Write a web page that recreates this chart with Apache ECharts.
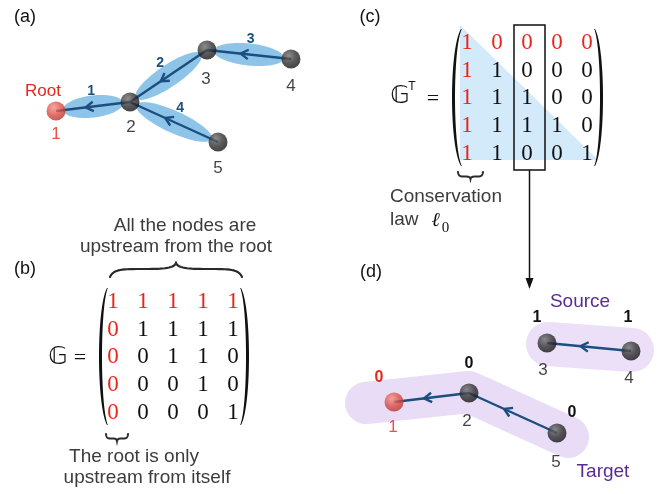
<!DOCTYPE html>
<html><head><meta charset="utf-8">
<script src="https://cdn.jsdelivr.net/npm/echarts@6/dist/echarts.min.js"></script>
<style>html,body{margin:0;padding:0;background:#fff}#c{width:663px;height:494px}</style>
</head><body><div id="c"></div>
<script>
// ---------------- data ----------------
const treeNodeIds = ['1', '2', '3', '4', '5'];
const treeNodeX = [56, 130, 207, 291, 218];
const treeNodeY = [111, 102, 50, 59, 142];
const treeEdges = [[2, 1], [3, 2], [4, 3], [5, 2]];      // child -> parent
const treeEdgeLabels = ['1', '2', '3', '4'];

const matrixG = [
  [1, 1, 1, 1, 1],
  [0, 1, 1, 1, 1],
  [0, 0, 1, 1, 0],
  [0, 0, 0, 1, 0],
  [0, 0, 0, 0, 1]
];
const matrixGT = [
  [1, 0, 0, 0, 0],
  [1, 1, 0, 0, 0],
  [1, 1, 1, 0, 0],
  [1, 1, 1, 1, 0],
  [1, 1, 0, 0, 1]
];

const splitNodeIds = ['1', '2', '3', '4', '5'];
const splitNodeX = [394, 469, 547, 631, 557];
const splitNodeY = [402, 393, 343, 351, 433];
const splitNodeValues = ['0', '0', '1', '1', '0'];
const splitEdges = [[2, 1], [4, 3], [5, 2]];
const groupNames = ['Target', 'Source'];
const groupMembers = [[1, 2, 5], [3, 4]];

// ---------------- layout / style ----------------
const RED = '#e8261c', NAVY = '#1c4f80', GREY = '#3c3c3c', PURPLE = '#5a2b92';
const SANS = '"Liberation Sans", Arial, Helvetica, sans-serif';
const SERIF = '"Liberation Serif", "Times New Roman", serif';
const treeLabelOffsets = [[0, 23], [1, 25], [-1, 29], [0, 27], [0, 26]];
const splitLabelOffsets = [[-1, 25], [-2, 28], [-4, 27], [-2, 27], [-1, 29]];
const splitValueOffsets = [[-15, -24], [0, -29], [-10, -25], [-3, -33], [15, -20]];
const groupEnds = [[[-28, 1], [0, -1], [11, 4]], [[1, 1], [1, -1]]];
const matB = {x0: 113, y0: 302, dx: 30, dy: 27.7};
const matC = {x0: 467, y0: 43, dx: 30, dy: 27.7};

function ball(red) {
  return {type: 'radial', x: 0.38, y: 0.32, r: 0.72, colorStops: red
    ? [{offset: 0, color: '#f29286'}, {offset: 0.55, color: '#dc4d44'}, {offset: 1, color: '#b4332a'}]
    : [{offset: 0, color: '#707070'}, {offset: 0.55, color: '#303030'}, {offset: 1, color: '#141414'}]};
}

// sampling helpers
function cubic(p0, p1, p2, p3, n) {
  const out = [];
  for (let i = 0; i <= n; i++) {
    const t = i / n, u = 1 - t;
    out.push([u*u*u*p0[0] + 3*u*u*t*p1[0] + 3*u*t*t*p2[0] + t*t*t*p3[0],
              u*u*u*p0[1] + 3*u*u*t*p1[1] + 3*u*t*t*p2[1] + t*t*t*p3[1]]);
  }
  return out;
}
function paren(xEnd, xMid, y0, y1, thick) {
  const h = y1 - y0, k = 0.14;
  const sgn = xMid < xEnd ? 1 : -1;
  const c1 = (xMid - 0.25 * xEnd) / 0.75;
  const xIn = xMid + sgn * thick;
  const c2 = (xIn - 0.25 * xEnd) / 0.75;
  const outer = cubic([xEnd, y0], [c1, y0 + h * k], [c1, y1 - h * k], [xEnd, y1], 40);
  const inner = cubic([xEnd + sgn * 0.8, y1], [c2, y1 - h * k], [c2, y0 + h * k], [xEnd + sgn * 0.8, y0], 40);
  return {type: 'polygon', z: 50, shape: {points: outer.concat(inner)}, style: {fill: '#111'}};
}
function brace(x0, x1, yEnd, yMid, yTip, lw) {
  const xm = (x0 + x1) / 2, q1 = (x0 + xm) / 2, q2 = (xm + x1) / 2;
  const w = (x1 - x0) / 2;
  let pts = [];
  pts = pts.concat(cubic([x0, yEnd], [x0 + w * 0.05, yMid], [x0 + w * 0.2, yMid], [q1, yMid], 16));
  pts = pts.concat(cubic([q1, yMid], [xm - w * 0.25, yMid], [xm - w * 0.03, yMid], [xm, yTip], 16));
  pts = pts.concat(cubic([xm, yTip], [xm + w * 0.03, yMid], [xm + w * 0.25, yMid], [q2, yMid], 16));
  pts = pts.concat(cubic([q2, yMid], [x1 - w * 0.2, yMid], [x1 - w * 0.05, yMid], [x1, yEnd], 16));
  return {type: 'polyline', z: 50, shape: {points: pts}, style: {stroke: '#2a2a2a', lineWidth: lw, fill: null, lineCap: 'round'}};
}
function txt(text, x, y, size, color, extra) {
  extra = extra || {};
  const font = (extra.style || '') + ' ' + (extra.weight || 'normal') + ' ' + size + 'px ' + (extra.family || SANS);
  const al = extra.align || 'center';
  return {type: 'text', z: 100, style: {text: text, x: x, y: y, fill: color, font: font,
    textAlign: al, textVerticalAlign: 'middle', align: al, verticalAlign: 'middle'}};
}

// ---------------- series data ----------------
const treeEdgeData = treeEdges.map(e => [treeNodeX[e[0]-1], treeNodeY[e[0]-1], treeNodeX[e[1]-1], treeNodeY[e[1]-1]]);
const splitEdgeData = splitEdges.map(e => [splitNodeX[e[0]-1], splitNodeY[e[0]-1], splitNodeX[e[1]-1], splitNodeY[e[1]-1]]);

function matrixData(M, L) {
  const out = [];
  M.forEach((row, r) => row.forEach((v, c) => out.push([L.x0 + c * L.dx, L.y0 + r * L.dy, v, (r === 0 || c === 0) ? 1 : 0])));
  return out;
}

function renderEllipse(params, api) {
  const c = api.coord([api.value(0), api.value(1)]);
  const p = api.coord([api.value(2), api.value(3)]);
  const dx = p[0] - c[0], dy = p[1] - c[1], L = Math.hypot(dx, dy);
  const ux = dx / L, uy = dy / L, mx = (c[0] + p[0]) / 2, my = (c[1] + p[1]) / 2;
  const a = L / 2 - 7, b = 11;
  const pts = [];
  for (let i = 0; i < 60; i++) {
    const t = i / 60 * Math.PI * 2, lx = a * Math.cos(t), ly = b * Math.sin(t);
    pts.push([mx + lx * ux - ly * uy, my + lx * uy + ly * ux]);
  }
  return {type: 'polygon', shape: {points: pts}, style: {fill: '#8fc4e9'}};
}

function makeEdgeRenderer(labels) {
  return function (params, api) {
    const c = api.coord([api.value(0), api.value(1)]);
    const p = api.coord([api.value(2), api.value(3)]);
    const dx = p[0] - c[0], dy = p[1] - c[1], L = Math.hypot(dx, dy);
    const ux = dx / L, uy = dy / L;
    const tip = [c[0] + dx * 0.6, c[1] + dy * 0.6];
    const arm = 9, ang = 0.55;
    const bx = -ux, by = -uy;
    const rot = (s) => [tip[0] + arm * (bx * Math.cos(s) - by * Math.sin(s)), tip[1] + arm * (bx * Math.sin(s) + by * Math.cos(s))];
    const children = [
      {type: 'line', shape: {x1: c[0], y1: c[1], x2: p[0], y2: p[1]}, style: {stroke: NAVY, lineWidth: 2.4}},
      {type: 'polyline', shape: {points: [rot(ang), tip, rot(-ang)]}, style: {stroke: NAVY, lineWidth: 2.4, fill: null, lineJoin: 'round'}}
    ];
    if (labels) {
      let nx = uy, ny = -ux;
      if (ny > 0) { nx = -nx; ny = -ny; }
      const mx = (c[0] + p[0]) / 2 + nx * 15, my = (c[1] + p[1]) / 2 + ny * 15;
      children.push({type: 'text', style: {text: labels[params.dataIndex], x: mx, y: my, fill: NAVY,
        font: 'bold 14px ' + SANS, textAlign: 'center', textVerticalAlign: 'middle', align: 'center', verticalAlign: 'middle'}});
    }
    return {type: 'group', children: children};
  };
}

function renderBlob(params, api) {
  const idx = params.dataIndex;
  const pts = groupMembers[idx].map((n, k) => {
    const q = api.coord([splitNodeX[n-1], splitNodeY[n-1]]);
    return [q[0] + groupEnds[idx][k][0], q[1] + groupEnds[idx][k][1]];
  });
  return {type: 'polyline', shape: {points: pts}, style: {stroke: idx === 0 ? '#e8dcf6' : '#ebe0f7', lineWidth: idx === 0 ? 42 : 44, lineCap: 'round', lineJoin: 'round', fill: null}};
}

function renderMatrix(params, api) {
  const q = api.coord([api.value(0), api.value(1)]);
  return {type: 'text', style: {text: String(api.value(2)), x: q[0], y: q[1], fill: api.value(3) ? RED : '#111',
    font: '23px ' + SERIF, textAlign: 'center', textVerticalAlign: 'middle', align: 'center', verticalAlign: 'middle'}};
}

function renderValues(params, api) {
  const i = params.dataIndex;
  const q = api.coord([api.value(0), api.value(1)]);
  return {type: 'text', style: {text: splitNodeValues[i], x: q[0] + splitValueOffsets[i][0], y: q[1] + splitValueOffsets[i][1],
    fill: i === 0 ? RED : '#111', font: 'bold 16px ' + SANS, textAlign: 'center', textVerticalAlign: 'middle', align: 'center', verticalAlign: 'middle'}};
}

function nodeData(ids, xs, ys, offs) {
  return ids.map((id, i) => ({
    value: [xs[i], ys[i]], name: id,
    itemStyle: {color: ball(id === '1')},
    label: {offset: offs[i], color: id === '1' ? RED : '#111'}
  }));
}

// ---------------- graphic annotations ----------------
const graphics = [
  // (c) triangle background
  {type: 'polygon', z: 0, shape: {points: [[460, 25], [460, 160], [598, 160]]}, style: {fill: '#d3eafb'}},
  // parentheses
  paren(107, 99, 288, 425, 2.8), paren(241, 249, 288, 425, 2.8),
  paren(461, 452, 29, 166, 2.8), paren(595, 603, 29, 166, 2.8),
  // braces
  brace(110, 242, 277, 269, 263, 2.2),
  brace(106, 128, 434, 438.5, 441, 2),
  brace(458, 483, 172, 176.5, 179, 2),
  // column box and arrow
  {type: 'rect', z: 50, shape: {x: 514, y: 25, width: 31, height: 145}, style: {fill: null, stroke: '#111', lineWidth: 1.5}},
  {type: 'line', z: 50, shape: {x1: 529.5, y1: 170, x2: 529.5, y2: 281}, style: {stroke: '#111', lineWidth: 1.5}},
  {type: 'polygon', z: 50, shape: {points: [[525.5, 278], [533.5, 278], [529.5, 289]]}, style: {fill: '#111'}},
  // panel tags
  txt('(a)', 25, 17, 18, '#111'), txt('(b)', 25, 269, 18, '#111'),
  txt('(c)', 370, 17, 18, '#111'), txt('(d)', 371, 272, 18, '#111'),
  txt('Root', 43, 91, 17, RED),
  txt('All the nodes are', 185, 226, 19, GREY),
  txt('upstream from the root', 176, 247, 19, GREY),
  txt('The root is only', 134, 457, 19, GREY),
  txt('upstream from itself', 147, 478, 19, GREY),
  txt('\u{1D53E}', 58, 357, 25, '#111', {family: '"DejaVu Sans", sans-serif'}),
  txt('=', 80, 358, 22, '#111', {family: SERIF}),
  txt('\u{1D53E}', 400, 96, 25, '#111', {family: '"DejaVu Sans", sans-serif'}),
  txt('T', 412, 87, 12, '#111'),
  txt('=', 433, 99, 22, '#111', {family: SERIF}),
  txt('Conservation', 390, 197, 19, GREY, {align: 'left'}),
  txt('law', 390, 220, 19, GREY, {align: 'left'}),
  txt('\u2113', 436, 221, 20, '#111', {family: '"DejaVu Serif", serif', weight: 'bold', style: 'italic'}),
  txt('0', 445.5, 228, 15, '#111', {family: SERIF}),
  txt(groupNames[1], 580, 302, 19, PURPLE),
  txt(groupNames[0], 603, 472, 19, PURPLE)
];

const chart = echarts.init(document.getElementById('c'));
chart.setOption({
  animation: false,
  backgroundColor: '#fff',
  grid: {left: 0, right: 0, top: 0, bottom: 0},
  xAxis: {type: 'value', min: 0, max: 663, show: false},
  yAxis: {type: 'value', min: 0, max: 494, inverse: true, show: false},
  graphic: graphics,
  series: [
    {type: 'custom', name: 'blobs', z: 1, clip: false, renderItem: renderBlob, data: groupNames.map((g, i) => [i])},
    {type: 'custom', name: 'edgeEllipses', z: 2, clip: false, renderItem: renderEllipse, data: treeEdgeData},
    {type: 'custom', name: 'treeEdges', z: 3, clip: false, renderItem: makeEdgeRenderer(treeEdgeLabels), data: treeEdgeData},
    {type: 'custom', name: 'splitEdges', z: 3, clip: false, renderItem: makeEdgeRenderer(null), data: splitEdgeData},
    {type: 'scatter', name: 'treeNodes', z: 4, symbol: 'circle', symbolSize: 19,
      label: {show: true, position: 'inside', formatter: '{b}', fontSize: 17, fontFamily: SANS},
      data: nodeData(treeNodeIds, treeNodeX, treeNodeY, treeLabelOffsets)},
    {type: 'scatter', name: 'splitNodes', z: 4, symbol: 'circle', symbolSize: 19,
      label: {show: true, position: 'inside', formatter: '{b}', fontSize: 17, fontFamily: SANS},
      data: nodeData(splitNodeIds, splitNodeX, splitNodeY, splitLabelOffsets)},
    {type: 'custom', name: 'splitValues', z: 5, clip: false, renderItem: renderValues,
      data: splitNodeX.map((x, i) => [x, splitNodeY[i]])},
    {type: 'custom', name: 'matrixG', z: 5, clip: false, renderItem: renderMatrix, data: matrixData(matrixG, matB)},
    {type: 'custom', name: 'matrixGT', z: 5, clip: false, renderItem: renderMatrix, data: matrixData(matrixGT, matC)}
  ]
});
</script></body></html>
